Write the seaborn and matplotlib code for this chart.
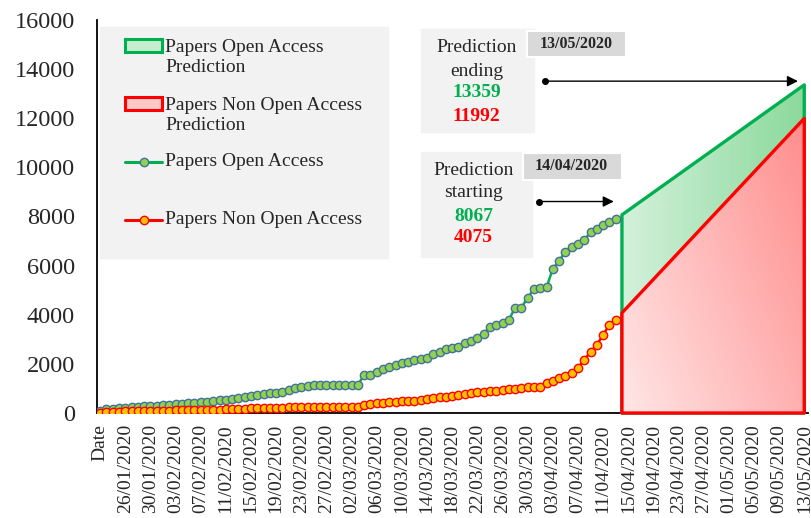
import numpy as np
import matplotlib
matplotlib.use("Agg")
import matplotlib.pyplot as plt
import seaborn as sns
from matplotlib.colors import LinearSegmentedColormap
from matplotlib.patches import Rectangle
from matplotlib.lines import Line2D

# --- Configuration ---
sns.set_theme(style="white")
plt.rcParams['font.family'] = ['Liberation Serif', 'DejaVu Serif']

GREEN = '#00b050'
RED = '#ff0000'
BOX_GREY = '#f2f2f2'
DATE_GREY = '#d9d9d9'

# --- Data (cumulative papers, one value per day from 22/01/2020 to 13/04/2020) ---
open_access = [
    100, 150, 170, 190, 210, 230, 250, 270, 280, 300,
    320, 335, 360, 380, 400, 420, 440, 460, 490, 510,
    540, 580, 610, 650, 690, 730, 770, 800, 830, 860,
    920, 1000, 1060, 1110, 1140, 1140, 1140, 1140, 1140, 1140,
    1140, 1150, 1550, 1560, 1670, 1800, 1880, 1960, 2040, 2080,
    2160, 2180, 2220, 2400, 2490, 2610, 2650, 2700, 2860, 2940,
    3060, 3220, 3510, 3590, 3670, 3800, 4270, 4290, 4690, 5050,
    5100, 5110, 5870, 6200, 6560, 6750, 6900, 7050, 7350, 7500,
    7650, 7780, 7900,
]
non_open_access = [
    20, 40, 50, 60, 65, 70, 75, 80, 85, 90,
    95, 100, 105, 110, 115, 120, 125, 130, 135, 140,
    145, 155, 165, 175, 185, 195, 200, 210, 215, 220,
    225, 230, 235, 240, 245, 245, 250, 250, 250, 255,
    255, 260, 340, 370, 390, 410, 440, 455, 470, 485,
    500, 540, 580, 610, 640, 660, 690, 730, 770, 810,
    840, 870, 890, 910, 930, 960, 990, 1030, 1060, 1060,
    1070, 1220, 1310, 1430, 1510, 1630, 1840, 2160, 2490, 2770,
    3180, 3590, 3800,
]

# prediction window: day index of 14/04/2020 and 13/05/2020
pred_days = [83, 112]
pred_open = [8067, 13359]
pred_non_open = [4075, 11992]
pred_start_date = "14/04/2020"
pred_end_date = "13/05/2020"

tick_labels = [
    "Date", "26/01/2020", "30/01/2020", "03/02/2020", "07/02/2020",
    "11/02/2020", "15/02/2020", "19/02/2020", "23/02/2020", "27/02/2020",
    "02/03/2020", "06/03/2020", "10/03/2020", "14/03/2020", "18/03/2020",
    "22/03/2020", "26/03/2020", "30/03/2020", "03/04/2020", "07/04/2020",
    "11/04/2020", "15/04/2020", "19/04/2020", "23/04/2020", "27/04/2020",
    "01/05/2020", "05/05/2020", "09/05/2020", "13/05/2020",
]


def gradient_polygon(ax, x, y, colors, diag, z):
    """Fill area under (x, y) with a gradient and draw its outline."""
    outline = ax.fill_between(x, 0, y, facecolor='none', edgecolor=colors[2],
                              linewidth=2.4, zorder=z + 1, clip_on=False)
    xn = np.linspace(0, 1, 200)
    grad = (1 - diag) * xn[None, :] + diag * xn[:, None]
    cmap = LinearSegmentedColormap.from_list('g', colors[:2])
    im = ax.imshow(grad, extent=[x[0], x[-1], 0, 16000], origin='lower',
                   aspect='auto', cmap=cmap, zorder=z, interpolation='bilinear')
    im.set_clip_path(outline.get_paths()[0], ax.transData)


fig = plt.figure(figsize=(8.12, 5.18), dpi=100)
ax = fig.add_axes([0.1195, 0.2027, 0.8756, 0.7587])

# --- Prediction areas ---
gradient_polygon(ax, pred_days, pred_open, ['#d3f1db', '#8bd99c', GREEN], 0.0, 2)
gradient_polygon(ax, pred_days, pred_non_open, ['#ffe6e6', '#ff8282', RED], 0.45, 4)

# --- Observed series ---
days = np.arange(len(open_access))
sns.lineplot(x=days, y=open_access, ax=ax, color=GREEN, linewidth=1.8,
             marker='o', markersize=6, markerfacecolor='#92d050',
             markeredgecolor='#41719c', markeredgewidth=1.0, zorder=6)
sns.lineplot(x=days, y=non_open_access, ax=ax, color=RED, linewidth=1.8,
             marker='o', markersize=6, markerfacecolor='#ffc000',
             markeredgecolor=RED, markeredgewidth=1.0, zorder=7)

# --- Axes ---
ax.set_xlim(-0.5, 112.6)
ax.set_ylim(0, 16000)
ax.set_xticks(range(0, 113, 4))
ax.set_xticklabels(tick_labels, rotation=90, fontsize=14)
ax.set_yticks(range(0, 16001, 2000))
ax.tick_params(axis='y', labelsize=17.5, length=0, pad=16)
ax.tick_params(axis='x', length=0, pad=8)
ax.set_xlabel('')
ax.set_ylabel('')
sns.despine(ax=ax)
for side in ('left', 'bottom'):
    ax.spines[side].set_color('black')
    ax.spines[side].set_linewidth(1.3)

# --- Annotation boxes ---
ax.add_patch(Rectangle((51.0, 11430), 18.0, 4200, color=BOX_GREY, zorder=8))
ax.add_patch(Rectangle((67.9, 14490), 15.7, 1060, facecolor=DATE_GREY,
                       edgecolor='white', linewidth=1.5, zorder=9))
ax.add_patch(Rectangle((51.0, 6370), 17.7, 4240, color=BOX_GREY, zorder=8))
ax.add_patch(Rectangle((67.2, 9470), 15.8, 1100, facecolor=DATE_GREY,
                       edgecolor='white', linewidth=1.5, zorder=9))

ax.text(75.7, 15020, pred_end_date, ha='center', va='center', fontsize=11.5,
        fontweight='bold', zorder=10)
ax.text(75.0, 10040, pred_start_date, ha='center', va='center', fontsize=11.5,
        fontweight='bold', zorder=10)

for x, lines in [(59.9, [("Prediction", 14900), ("ending", 13920)]),
                 (59.4, [("Prediction", 9880), ("starting", 8980)])]:
    for txt, y in lines:
        ax.text(x, y, txt, ha='center', va='center', fontsize=14, zorder=10)
ax.text(59.9, 13060, f"{pred_open[-1]}", ha='center', va='center', fontsize=14,
        fontweight='bold', color=GREEN, zorder=10)
ax.text(59.9, 12080, f"{pred_non_open[-1]}", ha='center', va='center', fontsize=14,
        fontweight='bold', color=RED, zorder=10)
ax.text(59.4, 8000, f"{pred_open[0]}", ha='center', va='center', fontsize=14,
        fontweight='bold', color=GREEN, zorder=10)
ax.text(59.4, 7140, f"{pred_non_open[0]}", ha='center', va='center', fontsize=14,
        fontweight='bold', color=RED, zorder=10)

# arrows pointing to the prediction start / end
for x0, x1, y in [(70.7, 111.0, 13510), (69.8, 81.7, 8610)]:
    ax.annotate('', xy=(x1, y), xytext=(x0, y), zorder=10,
                arrowprops=dict(arrowstyle='-|>', color='black', lw=1.0,
                                mutation_scale=16, shrinkA=0, shrinkB=0))
    ax.plot(x0, y, 'o', color='black', markersize=4, zorder=10)

# --- Legend (drawn by hand to mimic the spreadsheet legend) ---
tr = ax.transAxes
ax.add_patch(Rectangle((0.0042, 0.394), 0.405, 0.588, color=BOX_GREY,
                       transform=tr, zorder=11))
ax.add_patch(Rectangle((0.0394, 0.9186), 0.052, 0.033, facecolor='#c6edcf',
                       edgecolor=GREEN, linewidth=2.2, transform=tr, zorder=12))
ax.add_patch(Rectangle((0.0394, 0.771), 0.052, 0.033, facecolor='#ffc8c8',
                       edgecolor=RED, linewidth=2.2, transform=tr, zorder=12))
for fy, lc, fc, ec in [(0.6387, GREEN, '#92d050', '#41719c'),
                       (0.4911, RED, '#ffc000', RED)]:
    ax.add_line(Line2D([0.0394, 0.0914], [fy, fy], color=lc, linewidth=2.2,
                       transform=tr, zorder=12))
    ax.add_line(Line2D([0.0654], [fy], marker='o', markersize=6,
                       markerfacecolor=fc, markeredgecolor=ec,
                       transform=tr, zorder=13))
for fy, label in [(0.9046, "Papers Open Access\nPrediction"),
                  (0.757, "Papers Non Open Access\nPrediction"),
                  (0.6387, "Papers Open Access"),
                  (0.4911, "Papers Non Open Access")]:
    ax.text(0.0956, fy, label, transform=tr, ha='left', va='center',
            fontsize=14, linespacing=1.2, zorder=13)

fig.savefig('out.png', dpi=100)
